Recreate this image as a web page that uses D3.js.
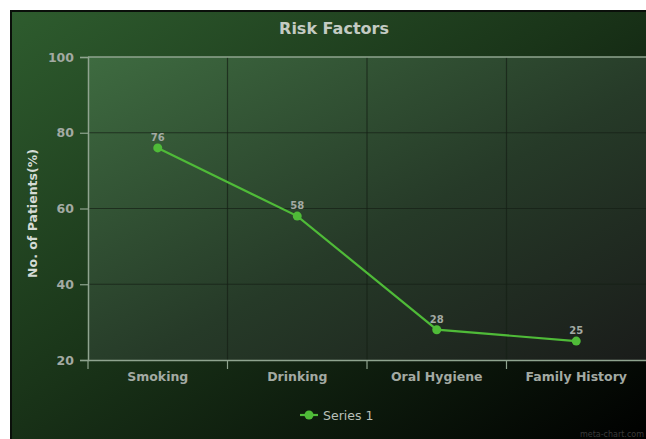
<!DOCTYPE html>
<html>
<head>
<meta charset="utf-8">
<script src="https://cdn.jsdelivr.net/npm/d3@7"></script>
<style>
  body { margin: 0; background: #fff; }
  svg { display: block; }
  text { font-family: "DejaVu Sans", Verdana, sans-serif; }
</style>
</head>
<body>
<svg id="chart" width="646" height="439"></svg>
<script>
/*
 * Risk Factors line chart
 */

var categories = ['Smoking', 'Drinking', 'Oral Hygiene', 'Family History'],
    series1 = [76, 58, 28, 25],
    yTicks = [20, 40, 60, 80, 100],
    seriesName = 'Series 1',
    chartTitle = 'Risk Factors',
    yTitle = 'No. of Patients(%)';

var width = 646,
    height = 439,
    plot = { left: 88, right: 646, top: 57, bottom: 360 },
    lineGreen = '#4fbb38',
    labelGrey = '#a3aaa3';

var svg = d3.select('#chart');
var defs = svg.append('defs');

// background gradient
var bg = defs.append('linearGradient')
    .attr('id', 'bgGrad')
    .attr('x1', '0%').attr('y1', '0%')
    .attr('x2', '100%').attr('y2', '100%');
bg.append('stop').attr('offset', '0%').attr('stop-color', '#2e5c2e');
bg.append('stop').attr('offset', '45%').attr('stop-color', '#1a3519');
bg.append('stop').attr('offset', '100%').attr('stop-color', '#000000');

var pg = defs.append('linearGradient')
    .attr('id', 'plotGrad')
    .attr('x1', '0%').attr('y1', '0%')
    .attr('x2', '100%').attr('y2', '100%');
pg.append('stop').attr('offset', '0%').attr('stop-color', '#3e6b40');
pg.append('stop').attr('offset', '55%').attr('stop-color', '#263a28');
pg.append('stop').attr('offset', '100%').attr('stop-color', '#1a1c1a');

svg.append('rect')
    .attr('x', 10).attr('y', 10)
    .attr('width', width - 10).attr('height', height - 10)
    .attr('fill', '#0a0f0a');
svg.append('rect')
    .attr('x', 12).attr('y', 12)
    .attr('width', width - 12).attr('height', height - 12)
    .attr('fill', 'url(#bgGrad)');

// plot area
svg.append('rect')
    .attr('x', plot.left).attr('y', plot.top)
    .attr('width', plot.right - plot.left).attr('height', plot.bottom - plot.top)
    .attr('fill', 'url(#plotGrad)');

var x = d3.scaleBand()
    .domain(categories)
    .range([plot.left, plot.right]);

var y = d3.scaleLinear()
    .domain([20, 100])
    .range([plot.bottom, plot.top]);

// horizontal grid
svg.append('g').selectAll('line')
    .data(yTicks.filter(function (d) { return d > 20 && d < 100; }))
    .enter().append('line')
    .attr('x1', plot.left).attr('x2', plot.right)
    .attr('y1', function (d) { return y(d); })
    .attr('y2', function (d) { return y(d); })
    .attr('stroke', '#152016').attr('stroke-opacity', 0.7).attr('stroke-width', 1.2);

// vertical grid at category boundaries
svg.append('g').selectAll('line')
    .data(categories.slice(1))
    .enter().append('line')
    .attr('x1', function (d) { return x(d); })
    .attr('x2', function (d) { return x(d); })
    .attr('y1', plot.top).attr('y2', plot.bottom)
    .attr('stroke', '#152016').attr('stroke-opacity', 0.7).attr('stroke-width', 1.2);

// top border line at 100
svg.append('line')
    .attr('x1', plot.left).attr('x2', plot.right)
    .attr('y1', y(100)).attr('y2', y(100))
    .attr('stroke', '#8fa48f').attr('stroke-width', 1.5);

// y axis
var yAxis = svg.append('g')
    .attr('transform', 'translate(' + plot.left + ',0)')
    .call(d3.axisLeft(y).tickValues(yTicks).tickSize(8).tickPadding(6));
yAxis.select('.domain').attr('stroke', '#8fa48f').attr('stroke-width', 1.5);
yAxis.selectAll('.tick line').attr('stroke', '#8fa48f').attr('stroke-width', 1.2);
yAxis.selectAll('.tick text')
    .attr('fill', labelGrey)
    .attr('font-size', 12.5)
    .attr('font-weight', 'bold');

// x axis
var xAxis = svg.append('g')
    .attr('transform', 'translate(0,' + plot.bottom + ')')
    .call(d3.axisBottom(x).tickSize(0).tickPadding(12));
xAxis.select('.domain').attr('stroke', '#8fa48f').attr('stroke-width', 1.5);
xAxis.selectAll('.tick text')
    .attr('fill', labelGrey)
    .attr('font-size', 12.5)
    .attr('font-weight', 'bold');

// x boundary ticks
svg.append('g').selectAll('line')
    .data(categories)
    .enter().append('line')
    .attr('x1', function (d) { return x(d); })
    .attr('x2', function (d) { return x(d); })
    .attr('y1', plot.bottom).attr('y2', plot.bottom + 9)
    .attr('stroke', '#8fa48f').attr('stroke-width', 1.2);

// line
var line = d3.line()
    .x(function (d, i) { return x(categories[i]) + x.bandwidth() / 2; })
    .y(function (d) { return y(d); });

svg.append('path')
    .datum(series1)
    .attr('d', line)
    .attr('fill', 'none')
    .attr('stroke', lineGreen)
    .attr('stroke-width', 2.2);

svg.append('g').selectAll('circle')
    .data(series1)
    .enter().append('circle')
    .attr('cx', function (d, i) { return x(categories[i]) + x.bandwidth() / 2; })
    .attr('cy', function (d) { return y(d); })
    .attr('r', 4.5)
    .attr('fill', lineGreen);

svg.append('g').selectAll('text')
    .data(series1)
    .enter().append('text')
    .attr('x', function (d, i) { return x(categories[i]) + x.bandwidth() / 2; })
    .attr('y', function (d) { return y(d) - 7; })
    .attr('text-anchor', 'middle')
    .attr('fill', labelGrey)
    .attr('font-size', 10)
    .attr('font-weight', 'bold')
    .text(function (d) { return d; });

// title
svg.append('text')
    .attr('x', 334).attr('y', 34)
    .attr('text-anchor', 'middle')
    .attr('fill', '#c3cbc3')
    .attr('font-size', 16)
    .attr('font-weight', 'bold')
    .text(chartTitle);

// y title
svg.append('text')
    .attr('transform', 'translate(37,' + ((plot.top + plot.bottom) / 2 + 5) + ') rotate(-90)')
    .attr('text-anchor', 'middle')
    .attr('fill', '#d5dbd5')
    .attr('font-size', 12.5)
    .attr('font-weight', 'bold')
    .text(yTitle);

// legend
var legend = svg.append('g').attr('transform', 'translate(300,415)');
legend.append('line')
    .attr('x1', 0).attr('x2', 18)
    .attr('stroke', lineGreen).attr('stroke-width', 2.2);
legend.append('circle')
    .attr('cx', 9).attr('r', 4.5)
    .attr('fill', lineGreen);
legend.append('text')
    .attr('x', 23).attr('y', 4.5)
    .attr('fill', '#b9c0b9')
    .attr('font-size', 12.5)
    .text(seriesName);

// watermark
svg.append('text')
    .attr('x', 644).attr('y', 437)
    .attr('text-anchor', 'end')
    .attr('fill', '#3a3a3a')
    .attr('font-size', 8)
    .text('meta-chart.com');
</script>
</body>
</html>
